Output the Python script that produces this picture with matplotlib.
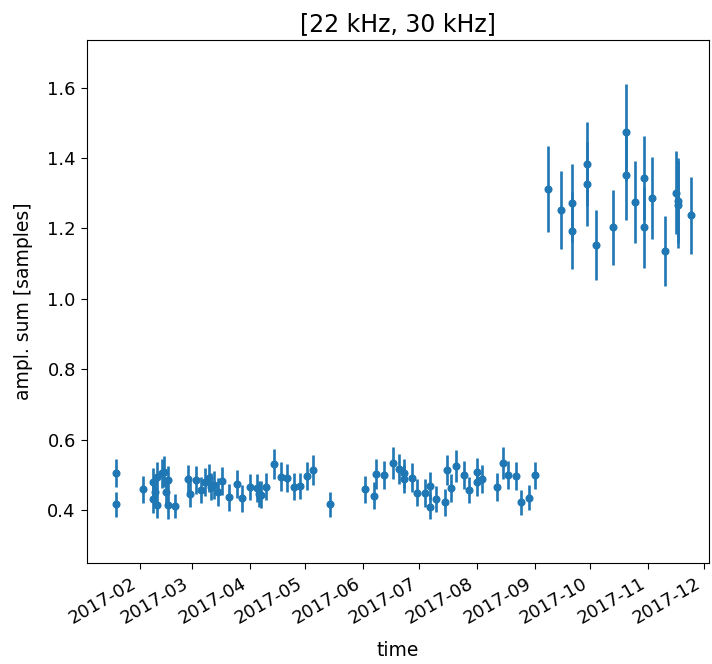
import matplotlib
matplotlib.use("Agg")
import matplotlib.pyplot as plt
import matplotlib.dates as mdates
import numpy as np
import datetime as dt

dates = [
    "2017-01-19", "2017-01-19", "2017-02-03", "2017-02-08", "2017-02-09", "2017-02-08",
    "2017-02-10", "2017-02-10", "2017-02-13", "2017-02-14", "2017-02-16", "2017-02-15",
    "2017-02-16", "2017-02-20", "2017-02-27", "2017-02-28", "2017-03-03", "2017-03-06",
    "2017-03-08", "2017-03-10", "2017-03-11", "2017-03-13", "2017-03-15", "2017-03-17",
    "2017-03-21", "2017-03-25", "2017-03-28", "2017-04-01", "2017-04-05", "2017-04-06",
    "2017-04-07", "2017-04-10", "2017-04-14", "2017-04-18", "2017-04-21", "2017-04-25",
    "2017-04-28", "2017-05-02", "2017-05-05", "2017-05-14", "2017-06-02", "2017-06-07",
    "2017-06-08", "2017-06-12", "2017-06-17", "2017-06-20", "2017-06-23", "2017-06-23",
    "2017-06-27", "2017-06-30", "2017-07-04", "2017-07-07", "2017-07-07", "2017-07-10",
    "2017-07-15", "2017-07-16", "2017-07-18", "2017-07-21", "2017-07-25", "2017-07-28",
    "2017-08-01", "2017-08-01", "2017-08-04", "2017-08-12", "2017-08-15", "2017-08-18",
    "2017-08-22", "2017-08-25", "2017-08-29", "2017-09-01",
    "2017-09-08", "2017-09-15", "2017-09-21", "2017-09-21", "2017-09-29", "2017-09-29",
    "2017-10-04", "2017-10-13", "2017-10-20", "2017-10-20", "2017-10-25", "2017-10-30",
    "2017-10-30", "2017-11-03", "2017-11-10", "2017-11-16", "2017-11-17", "2017-11-17",
    "2017-11-24",
]
values = [
    0.504, 0.416, 0.459, 0.479, 0.452, 0.430,
    0.414, 0.495, 0.504, 0.509, 0.485, 0.452,
    0.414, 0.411, 0.488, 0.445, 0.485, 0.457,
    0.480, 0.490, 0.466, 0.471, 0.452, 0.482,
    0.436, 0.473, 0.433, 0.465, 0.462, 0.445,
    0.443, 0.466, 0.531, 0.495, 0.490, 0.466,
    0.468, 0.497, 0.514, 0.416, 0.459, 0.440,
    0.502, 0.500, 0.533, 0.517, 0.504, 0.487,
    0.492, 0.449, 0.449, 0.469, 0.409, 0.431,
    0.422, 0.514, 0.462, 0.525, 0.500, 0.457,
    0.507, 0.479, 0.487, 0.466, 0.533, 0.500,
    0.497, 0.422, 0.435, 0.498,
    1.312, 1.253, 1.272, 1.194, 1.383, 1.327,
    1.153, 1.203, 1.473, 1.352, 1.275, 1.343,
    1.203, 1.287, 1.136, 1.302, 1.279, 1.268,
    1.237,
]
errors = [
    0.040, 0.035, 0.038, 0.040, 0.042, 0.040,
    0.038, 0.042, 0.042, 0.045, 0.040, 0.040,
    0.040, 0.035, 0.040, 0.038, 0.040, 0.038,
    0.040, 0.040, 0.038, 0.040, 0.040, 0.040,
    0.038, 0.040, 0.038, 0.038, 0.040, 0.038,
    0.038, 0.038, 0.042, 0.040, 0.040, 0.038,
    0.038, 0.040, 0.042, 0.035, 0.038, 0.038,
    0.042, 0.040, 0.045, 0.042, 0.042, 0.040,
    0.040, 0.038, 0.040, 0.040, 0.035, 0.038,
    0.038, 0.042, 0.040, 0.045, 0.040, 0.038,
    0.040, 0.040, 0.040, 0.040, 0.045, 0.040,
    0.040, 0.035, 0.035, 0.038,
    0.123, 0.111, 0.110, 0.110, 0.120, 0.120,
    0.100, 0.107, 0.137, 0.127, 0.116, 0.120,
    0.115, 0.116, 0.099, 0.119, 0.120, 0.124,
    0.110,
]

x = [dt.datetime.strptime(d, "%Y-%m-%d") for d in dates]

fig = plt.figure(figsize=(7.12, 6.64), dpi=100)
ax = fig.add_axes([0.122, 0.152, 0.874, 0.788])
ax.errorbar(x, values, yerr=errors, fmt="o", color="#1f77b4", ms=4.8, elinewidth=1.9)

ax.set_xlim(mdates.date2num(dt.datetime(2017, 1, 3, 14)), mdates.date2num(dt.datetime(2017, 12, 3, 19)))
ax.set_ylim(0.249, 1.736)
ax.xaxis.set_major_locator(mdates.MonthLocator())
ax.xaxis.set_major_formatter(mdates.DateFormatter("%Y-%m"))
for lab in ax.get_xticklabels():
    lab.set_rotation(30)
    lab.set_ha("right")
ax.tick_params(labelsize=13, length=4.5)
ax.set_xlabel("time", fontsize=13.5, labelpad=10)
ax.set_ylabel("ampl. sum [samples]", fontsize=13.5, labelpad=10)
ax.set_title("[22 kHz, 30 kHz]", fontsize=17)

fig.savefig("out.png", dpi=100)
